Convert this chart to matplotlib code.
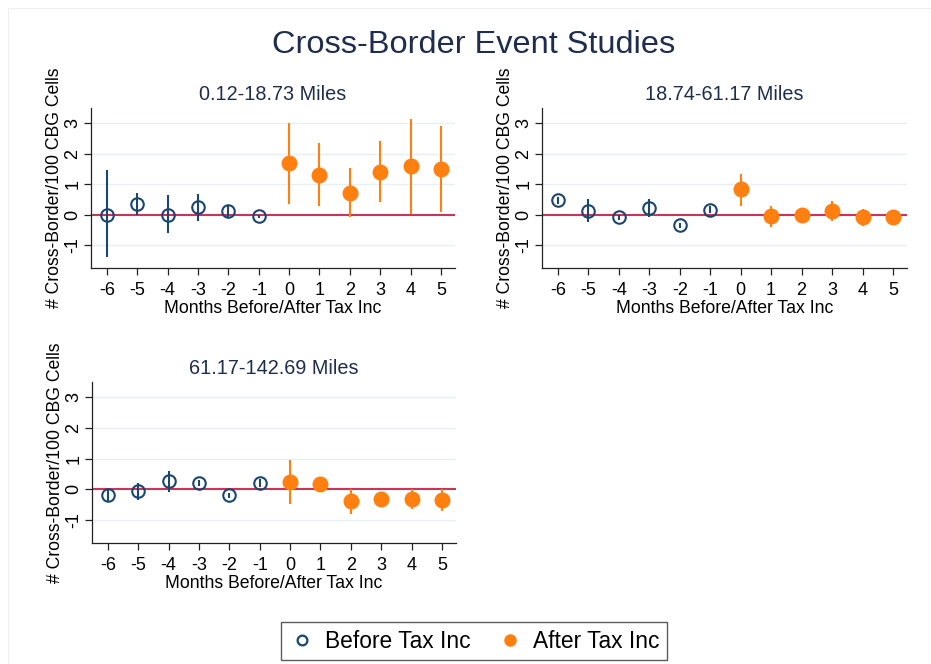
import matplotlib
matplotlib.use("Agg")
import matplotlib.pyplot as plt
from matplotlib.lines import Line2D
from matplotlib.patches import Rectangle

plt.rcParams["font.family"] = ["Liberation Sans", "DejaVu Sans"]
plt.rcParams["axes.unicode_minus"] = False

NAVY = "#1a476f"
ORANGE = "#ff8010"
ZERO = "#cc3358"
GRID = "#e6eff1"
TXT = "#1e2d4e"

MONTHS_BEFORE = [-6, -5, -4, -3, -2, -1]
MONTHS_AFTER = [0, 1, 2, 3, 4, 5]

PANEL_TITLES = ["0.12-18.73 Miles", "18.74-61.17 Miles", "61.17-142.69 Miles"]

# panel 1: 0.12-18.73 miles
p1_before = [0.00, 0.35, 0.00, 0.24, 0.11, -0.05]
p1_before_lo = [-1.39, 0.00, -0.60, -0.20, -0.10, -0.10]
p1_before_hi = [1.45, 0.71, 0.63, 0.67, 0.33, 0.00]
p1_after = [1.68, 1.30, 0.71, 1.41, 1.59, 1.49]
p1_after_lo = [0.35, 0.29, -0.09, 0.40, 0.02, 0.08]
p1_after_hi = [3.01, 2.34, 1.52, 2.42, 3.13, 2.91]

# panel 2: 18.74-61.17 miles
p2_before = [0.47, 0.13, -0.08, 0.22, -0.35, 0.16]
p2_before_lo = [0.36, -0.25, -0.16, -0.08, -0.44, 0.05]
p2_before_hi = [0.58, 0.52, 0.00, 0.51, -0.26, 0.28]
p2_after = [0.84, -0.05, -0.02, 0.13, -0.09, -0.09]
p2_after_lo = [0.30, -0.41, -0.10, -0.20, -0.38, -0.16]
p2_after_hi = [1.34, 0.30, 0.06, 0.46, 0.18, -0.02]

# panel 3: 61.17-142.69 miles
p3_before = [-0.20, -0.07, 0.26, 0.20, -0.20, 0.21]
p3_before_lo = [-0.41, -0.34, -0.09, 0.10, -0.29, 0.08]
p3_before_hi = [-0.03, 0.21, 0.59, 0.30, -0.11, 0.33]
p3_after = [0.25, 0.17, -0.39, -0.33, -0.32, -0.36]
p3_after_lo = [-0.49, -0.09, -0.82, -0.58, -0.63, -0.71]
p3_after_hi = [0.97, 0.37, 0.00, -0.09, 0.00, 0.00]

panels = [
    (p1_before, p1_before_lo, p1_before_hi, p1_after, p1_after_lo, p1_after_hi),
    (p2_before, p2_before_lo, p2_before_hi, p2_after, p2_after_lo, p2_after_hi),
    (p3_before, p3_before_lo, p3_before_hi, p3_after, p3_after_lo, p3_after_hi),
]

fig = plt.figure(figsize=(9.31, 6.64), dpi=100)
W, H = 931.0, 664.0

# faint outer frame
fig.patches.append(Rectangle((8 / W, -0.1), 1.2, 1 - 8 / H + 0.1, transform=fig.transFigure,
                             fill=False, edgecolor="#eeeeee", lw=0.8))

# axes boxes in pixels: left, top, right, bottom
boxes = [(91, 108, 455, 268), (542, 108, 907, 268), (92, 382, 456, 543)]

for (l, t, r, b), title, data in zip(boxes, PANEL_TITLES, panels):
    ax = fig.add_axes([l / W, 1 - b / H, (r - l) / W, (b - t) / H])
    bv, blo, bhi, av, alo, ahi = data
    for y in [-1, 1, 2, 3]:
        ax.axhline(y, color=GRID, lw=1.0, zorder=0)
    ax.axhline(0, color=ZERO, lw=1.5, zorder=1)
    ax.vlines(MONTHS_BEFORE, blo, bhi, color=NAVY, lw=1.5, zorder=2)
    ax.plot(MONTHS_BEFORE, bv, "o", ms=9, mfc="none", mec=NAVY, mew=1.5, zorder=3)
    ax.vlines(MONTHS_AFTER, alo, ahi, color=ORANGE, lw=1.5, zorder=2)
    ax.plot(MONTHS_AFTER, av, "o", ms=10.5, color=ORANGE, zorder=3)

    ax.set_xlim(-6.52, 5.46)
    ax.set_ylim(-1.75, 3.5)
    ax.set_xticks(MONTHS_BEFORE + MONTHS_AFTER)
    ax.set_yticks([-1, 0, 1, 2, 3])
    for s in ["top", "right"]:
        ax.spines[s].set_visible(False)
    for s in ["left", "bottom"]:
        ax.spines[s].set_color("#222222")
        ax.spines[s].set_linewidth(0.9)
    ax.tick_params(axis="both", colors="#222222", labelcolor="black", labelsize=13,
                   length=5, width=0.9)
    ax.tick_params(axis="y", pad=2)
    ax.tick_params(axis="x", pad=5)
    for lab in ax.get_yticklabels():
        lab.set_rotation(90)
        lab.set_va("center")
    ax.set_title(title, fontsize=14.3, color=TXT, pad=6)
    ax.set_xlabel("Months Before/After Tax Inc", fontsize=12.7, labelpad=0.5)
    ax.set_ylabel("# Cross-Border/100 CBG Cells", fontsize=12.7, labelpad=1)

fig.text(474 / W, 1 - 45 / H, "Cross-Border Event Studies", ha="center", va="center",
         fontsize=23.4, color=TXT)

handles = [
    Line2D([], [], ls="none", marker="o", ms=7, mfc="none", mec=NAVY, mew=1.6),
    Line2D([], [], ls="none", marker="o", ms=8, color=ORANGE),
]
leg = fig.legend(handles, ["Before Tax Inc", "After Tax Inc"], loc="center",
                 bbox_to_anchor=(474 / W, 1 - 641 / H), ncol=2, fontsize=16.4,
                 frameon=True, fancybox=False, edgecolor="#333333",
                 handletextpad=0.4, columnspacing=1.15, borderpad=0.35, handlelength=1.2)
leg.get_frame().set_linewidth(1.0)

fig.savefig("out.png", dpi=100)
